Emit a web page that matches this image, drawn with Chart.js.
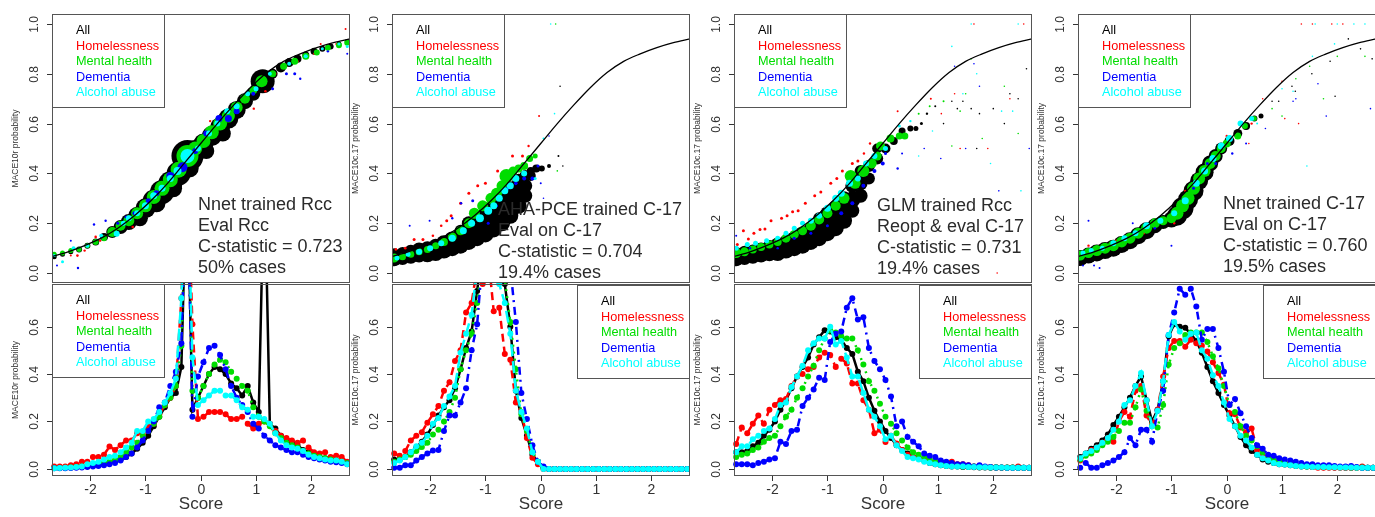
<!DOCTYPE html>
<html>
<head>
<meta charset="utf-8">
<script src="https://cdn.jsdelivr.net/npm/chart.js@4.4.1/dist/chart.umd.min.js"></script>
<style>
  body { margin: 0; background: #fff; width: 1375px; height: 517px; overflow: hidden; position: relative; }
  canvas { position: absolute; }
</style>
</head>
<body>
<script>
// groups, colours
const groupNames = ['All', 'Homelessness', 'Mental health', 'Dementia', 'Alcohol abuse'];
const groupColors = ['#000000', '#ff0000', '#00dd00', '#0000ff', '#00ffff'];
const groupDash = [[], [8, 5], [2, 5], [2, 5, 8, 5], [12, 5]];

// axis labels
const topYTicks = ['0.0', '0.2', '0.4', '0.6', '0.8', '1.0'];
const bottomYTicks = ['0.0', '0.2', '0.4', '0.6'];
const xTickLabels = ['-2', '-1', '0', '1', '2'];
const yTitles = ['MACE10r probability', 'MACE10c.17 probability', 'MACE10c.17 probability', 'MACE10c.17 probability'];
const notes = [
  ['Nnet trained Rcc', 'Eval Rcc', 'C-statistic = 0.723', '50% cases'],
  ['AHA-PCE trained C-17', 'Eval on C-17', 'C-statistic = 0.704', '19.4% cases'],
  ['GLM trained Rcc', 'Reopt & eval C-17', 'C-statistic = 0.731', '19.4% cases'],
  ['Nnet trained C-17', 'Eval on C-17', 'C-statistic = 0.760', '19.5% cases']
];

// reference curve (top panels)
const curveX = [-2.7, -2.4, -2.1, -1.8, -1.5, -1.2, -0.9, -0.6, -0.3, 0, 0.3, 0.6, 0.9, 1.2, 1.5, 1.8, 2.1, 2.4, 2.7];
const curveY = [0.065, 0.085, 0.11, 0.14, 0.18, 0.23, 0.29, 0.36, 0.44, 0.52, 0.6, 0.675, 0.745, 0.805, 0.85, 0.88, 0.905, 0.925, 0.94];

// top panels: [score, probability, radius]
const p1All = [[-2.65,0.065,2.5],[-2.5,0.075,2.5],[-2.35,0.085,2.5],[-2.2,0.095,3],[-2.05,0.11,3],[-1.9,0.125,3.5],[-1.75,0.145,4],[-1.6,0.165,6],[-1.45,0.185,7],[-1.3,0.205,8],[-1.15,0.23,9],[-1.0,0.26,10],[-0.85,0.29,11],[-0.7,0.325,12],[-0.55,0.36,12],[-0.4,0.4,12],[-0.24,0.47,16],[-0.1,0.49,11],[0.05,0.52,10],[0.2,0.55,10],[0.35,0.585,10],[0.5,0.62,10],[0.65,0.655,9],[0.8,0.69,8],[0.95,0.72,7],[1.12,0.77,12],[1.3,0.8,5],[1.45,0.825,5],[1.6,0.845,4.5],[1.75,0.86,4],[1.9,0.875,3.5],[2.05,0.89,3.5],[2.2,0.9,3],[2.35,0.91,3],[2.5,0.92,2.5],[2.65,0.93,2.5],[-1.1,0.22,8],[-0.8,0.28,9],[-0.5,0.34,9],[-0.2,0.42,9],[0.1,0.49,8],[0.4,0.56,8]];
const p1Hom = [[-2.35,0.07,1],[-2.23,0.07,1.3],[-2.1,0.09,1.2],[-1.9,0.145,1.3],[-1.82,0.13,1.2],[-1.6,0.18,1.5],[-1.46,0.19,1.3],[-1.23,0.185,1.3],[-1.05,0.25,1.2],[-0.8,0.3,1.2],[-0.55,0.37,1.2],[0.17,0.61,1.2],[0.55,0.64,1.2],[0.96,0.66,1.2],[1.17,0.73,1.3],[1.35,0.8,1.2],[1.75,0.85,1.2],[2.05,0.88,1],[2.17,0.92,1],[2.45,0.92,1],[2.62,0.98,1]];
const p1Men = [[-2.65,0.075,2.5],[-2.5,0.08,2.5],[-2.35,0.09,2.5],[-2.2,0.095,2.5],[-2.05,0.11,2.5],[-1.9,0.125,3],[-1.75,0.14,3],[-1.6,0.165,5],[-1.45,0.19,5],[-1.3,0.21,5.5],[-1.15,0.24,6],[-1.0,0.27,6.5],[-0.85,0.305,7],[-0.7,0.34,7.5],[-0.55,0.375,7.5],[-0.4,0.415,8],[-0.24,0.47,11],[-0.1,0.5,7],[0.05,0.53,7],[0.2,0.565,7],[0.35,0.6,7],[0.5,0.63,6.5],[0.65,0.665,6],[0.8,0.7,5],[0.95,0.735,4],[1.1,0.77,6],[1.3,0.8,3.5],[1.5,0.83,3.5],[1.7,0.85,3.5],[1.9,0.87,3.5],[2.1,0.885,3],[2.3,0.905,3],[2.5,0.915,3],[2.65,0.925,3]];
const p1Dem = [[-2.6,0.03,1],[-2.35,0.13,1],[-2.22,0.02,1.2],[-1.93,0.195,1.2],[-1.72,0.21,1.2],[-1.5,0.2,1.5],[-1.35,0.225,1.5],[-1.2,0.24,2],[-0.95,0.29,2.5],[-0.8,0.32,3],[-0.55,0.39,4],[-0.33,0.425,5],[-0.1,0.49,3],[0.1,0.56,3],[0.33,0.62,3.5],[0.5,0.62,3.5],[0.65,0.65,3],[0.95,0.72,2],[1.3,0.74,1.5],[1.55,0.8,1.5],[1.7,0.8,1.5],[1.8,0.78,1.2],[2.3,0.89,1.2],[2.65,0.88,1]];
const p1Alc = [[-2.65,0.07,1.5],[-2.5,0.045,1.5],[-2.3,0.1,2],[-2.05,0.11,2],[-1.8,0.15,2],[-1.52,0.158,3],[-1.4,0.2,2.5],[-1.3,0.22,3],[-1.15,0.24,3],[-1.0,0.27,3.5],[-0.85,0.31,3.5],[-0.7,0.34,3.5],[-0.55,0.38,3.5],[-0.42,0.41,4],[-0.24,0.47,7],[-0.05,0.5,3],[0.15,0.56,3],[0.3,0.6,3],[0.48,0.65,3],[0.65,0.67,3],[0.85,0.72,2.5],[1.0,0.74,2.5],[1.25,0.8,2],[1.6,0.84,2],[1.9,0.87,2],[2.2,0.9,1.5],[2.5,0.92,1.5],[2.65,0.91,1.5]];

const p2All = [[-2.65,0.055,7],[-2.65,0.075,6],[-2.5,0.06,7],[-2.5,0.08,6],[-2.35,0.065,7],[-2.35,0.085,7],[-2.2,0.07,7],[-2.2,0.095,7],[-2.05,0.075,8],[-2.05,0.1,7],[-1.9,0.08,8],[-1.9,0.11,7],[-1.75,0.09,8],[-1.75,0.12,8],[-1.6,0.1,8],[-1.6,0.135,8],[-1.45,0.11,8],[-1.45,0.15,8],[-1.45,0.17,6],[-1.3,0.125,8],[-1.3,0.16,8],[-1.3,0.2,7],[-1.15,0.14,8],[-1.15,0.18,8],[-1.15,0.22,7],[-1.0,0.155,8],[-1.0,0.195,8],[-1.0,0.235,8],[-1.0,0.26,6],[-0.85,0.175,8],[-0.85,0.215,8],[-0.85,0.255,8],[-0.85,0.285,6],[-0.7,0.2,8],[-0.7,0.24,8],[-0.7,0.28,8],[-0.7,0.31,7],[-0.55,0.23,8],[-0.55,0.27,8],[-0.55,0.31,8],[-0.55,0.34,7],[-0.4,0.27,8],[-0.4,0.31,8],[-0.4,0.35,8],[-0.4,0.375,6],[-0.28,0.31,7],[-0.28,0.35,7],[-0.28,0.39,6],[-0.18,0.39,5],[-0.18,0.41,4],[-0.08,0.42,4],[0.02,0.42,3],[0.15,0.43,2],[0.32,0.47,1],[0.35,0.75,0.8],[0.4,0.43,0.8]];
const p2Hom = [[-2.62,0.095,1.3],[-2.45,0.1,1.3],[-2.29,0.135,1.5],[-2.13,0.135,1.5],[-1.95,0.15,1.3],[-1.8,0.19,1.3],[-1.7,0.21,1.5],[-1.62,0.23,1.5],[-1.45,0.28,1.5],[-1.3,0.32,1.5],[-1.14,0.35,1.5],[-1.0,0.36,1.5],[-0.78,0.41,1.5],[-0.65,0.4,1.5],[-0.51,0.47,1.5],[-0.33,0.47,1.5],[-0.22,0.51,1.2],[-0.03,0.63,1]];
const p2Men = [[-2.65,0.06,4.5],[-2.5,0.065,3.5],[-2.35,0.075,3.5],[-2.2,0.085,3.5],[-2.05,0.095,3.5],[-1.9,0.11,3.5],[-1.75,0.125,4],[-1.6,0.145,4.5],[-1.45,0.17,4.5],[-1.3,0.2,5],[-1.2,0.24,5.5],[-1.05,0.27,5.5],[-0.9,0.3,5.5],[-0.8,0.32,5.5],[-0.7,0.35,5.5],[-0.62,0.39,7],[-0.5,0.41,4.5],[-0.4,0.42,4],[-0.3,0.43,4],[-0.2,0.46,3.5],[-0.1,0.47,2.5],[0.27,1.0,0.8],[0.3,0.41,0.8]];
const p2Dem = [[-2.37,0.19,1],[-2.01,0.21,1],[-1.6,0.22,1.2],[-1.44,0.28,1.2],[-1.23,0.29,1.5],[-0.95,0.2,1.5],[-0.8,0.27,1.5],[-0.6,0.34,1.8],[-0.45,0.36,1.8],[-0.3,0.38,2],[-0.15,0.38,2],[-0.05,0.43,1.5],[0.0,0.36,1],[0.05,0.3,0.8],[0.15,0.55,0.8]];
const p2Alc = [[-2.6,0.06,2.5],[-2.4,0.075,2.5],[-2.2,0.085,3],[-2.0,0.1,3],[-1.8,0.12,3],[-1.6,0.14,3.5],[-1.4,0.17,3.5],[-1.25,0.2,3.5],[-1.1,0.22,4],[-0.95,0.25,4],[-0.85,0.27,3.5],[-0.75,0.3,3.5],[-0.65,0.33,3.5],[-0.55,0.35,3.5],[-0.45,0.38,3.5],[-0.3,0.4,3],[-0.1,0.38,1.5],[0.05,0.54,1],[0.18,1.0,0.8],[0.25,0.64,0.8]];

const p3All = [[-2.65,0.055,7],[-2.65,0.08,6],[-2.5,0.06,7],[-2.5,0.085,6],[-2.35,0.065,7],[-2.35,0.09,6],[-2.2,0.07,7],[-2.2,0.095,7],[-2.05,0.075,7],[-2.05,0.105,7],[-1.9,0.08,8],[-1.9,0.115,7],[-1.75,0.09,8],[-1.75,0.125,7],[-1.6,0.1,8],[-1.6,0.14,7],[-1.45,0.11,8],[-1.45,0.155,8],[-1.3,0.125,8],[-1.3,0.17,8],[-1.15,0.14,8],[-1.15,0.185,8],[-1.15,0.22,6],[-1.0,0.16,8],[-1.0,0.2,8],[-1.0,0.24,7],[-0.85,0.18,8],[-0.85,0.22,8],[-0.85,0.265,7],[-0.7,0.21,8],[-0.7,0.25,8],[-0.7,0.3,7],[-0.55,0.25,7],[-0.55,0.295,8],[-0.55,0.35,7],[-0.4,0.31,7],[-0.4,0.36,7],[-0.4,0.41,6],[-0.25,0.38,6],[-0.25,0.43,6],[-0.1,0.46,6],[-0.1,0.5,5],[0.05,0.5,5],[0.2,0.53,4],[0.35,0.57,3.5],[0.5,0.58,3],[0.6,0.58,2.5],[0.7,0.6,1.5],[0.8,0.64,1.2],[0.95,0.67,1],[1.1,0.6,0.8],[1.25,0.69,0.8],[1.35,0.66,0.8],[1.45,0.69,0.8],[1.6,0.66,0.8],[1.7,0.5,0.8],[1.75,0.64,0.8],[2.0,0.66,0.8],[2.2,0.6,0.8],[2.3,0.72,0.8],[2.45,0.7,0.8],[2.6,0.82,0.8]];
const p3Hom = [[-2.63,0.115,1.5],[-2.52,0.17,1.5],[-2.43,0.137,1.5],[-2.33,0.16,1.5],[-2.22,0.175,1.5],[-2.13,0.177,1.5],[-2.02,0.21,1.5],[-1.83,0.22,1.5],[-1.73,0.23,1.5],[-1.63,0.246,1.5],[-1.53,0.25,1.5],[-1.4,0.28,1.5],[-1.23,0.31,1.5],[-1.12,0.325,1.5],[-0.94,0.36,1.5],[-0.83,0.38,1.5],[-0.73,0.41,1.5],[-0.55,0.44,1.5],[-0.45,0.45,1.5],[-0.34,0.48,1.2],[-0.23,0.52,1.2],[0.27,0.65,1],[0.87,0.7,1],[1.06,0.64,0.8],[1.3,0.72,0.8],[1.4,0.5,0.8],[1.65,1.0,0.8],[1.9,0.5,0.8],[2.07,0.0,0.8],[2.3,0.7,0.8],[2.55,1.0,0.8]];
const p3Men = [[-2.65,0.08,5],[-2.5,0.085,4.5],[-2.35,0.095,4],[-2.2,0.105,4],[-2.05,0.115,4],[-1.9,0.125,4],[-1.75,0.14,4.5],[-1.6,0.155,4.5],[-1.45,0.17,4.5],[-1.3,0.19,5],[-1.15,0.215,5],[-1.0,0.24,5],[-0.85,0.27,5],[-0.7,0.3,5.5],[-0.58,0.39,6],[-0.5,0.36,5.5],[-0.35,0.41,6],[-0.2,0.44,5],[-0.1,0.47,4.5],[-0.04,0.51,4.5],[0.14,0.54,4],[0.3,0.55,3.5],[0.4,0.55,3.5],[0.65,0.64,1],[0.85,0.67,1],[1.1,0.69,1],[1.25,0.51,0.8],[1.4,0.65,0.8],[1.5,0.72,0.8],[1.6,0.86,0.8],[1.8,0.54,0.8],[2.2,0.75,0.8],[2.45,0.56,0.8]];
const p3Dem = [[-2.65,0.15,1],[-2.4,0.1,1.2],[-1.9,0.1,1.2],[-1.6,0.14,1.5],[-1.3,0.16,1.5],[-1.0,0.19,1.5],[-0.75,0.24,2],[-0.55,0.28,2],[-0.35,0.35,2],[-0.15,0.41,2],[0.0,0.44,2],[0.05,0.48,1.5],[0.27,0.42,1.2],[0.35,0.48,1],[0.75,0.5,0.8],[1.05,0.46,0.8],[1.3,0.83,0.8],[1.5,0.5,0.8],[1.65,0.84,0.8],[1.75,0.75,0.8],[2.1,0.33,0.8],[2.65,0.5,0.8]];
const p3Alc = [[-2.65,0.1,2.5],[-2.45,0.115,2.5],[-2.3,0.12,2.5],[-2.1,0.13,2.5],[-1.9,0.14,2.5],[-1.75,0.16,2.5],[-1.6,0.18,2.5],[-1.45,0.2,2.5],[-1.3,0.21,3],[-1.15,0.23,3],[-1.0,0.26,3.5],[-0.85,0.3,3.5],[-0.75,0.32,3.5],[-0.6,0.36,3.5],[-0.45,0.38,3],[-0.3,0.44,3],[-0.15,0.47,3],[0.05,0.5,2.5],[0.3,0.59,1.5],[0.5,0.61,1.2],[0.65,0.47,0.8],[0.9,0.57,0.8],[1.25,0.91,0.8],[1.45,0.72,0.8],[1.6,1.0,0.8],[1.7,0.8,0.8],[1.95,0.44,0.8],[2.15,0.65,0.8],[2.35,0.65,0.8],[2.45,1.0,0.8],[2.5,0.33,0.8]];

const p4All = [[-2.65,0.06,8],[-2.5,0.07,8],[-2.35,0.08,8.5],[-2.2,0.09,8.5],[-2.05,0.1,8.5],[-1.9,0.115,8.5],[-1.75,0.13,8.5],[-1.6,0.15,8.5],[-1.45,0.17,8.5],[-1.3,0.19,7.5],[-1.15,0.205,7],[-1.0,0.215,8],[-0.9,0.23,10],[-0.8,0.26,11],[-0.7,0.295,10],[-0.6,0.33,10],[-0.5,0.37,9],[-0.4,0.405,9],[-0.3,0.44,8],[-0.2,0.47,7],[-0.1,0.5,6],[0.05,0.53,5],[0.2,0.56,4.5],[0.35,0.59,4],[0.5,0.62,3],[0.62,0.63,2.5],[0.82,0.69,0.8],[0.94,0.69,0.8],[1.18,0.75,0.8],[1.24,0.73,0.8],[1.54,0.8,0.8],[1.87,0.85,0.8],[1.96,0.71,0.8],[2.2,0.94,0.8],[2.42,0.9,0.8],[2.63,0.86,0.8]];
const p4Hom = [[-2.5,0.11,1.2],[-2.0,0.13,1.2],[-1.5,0.16,1.2],[-0.95,0.2,1.2],[-0.75,0.33,1.2],[-0.55,0.37,1.2],[-0.35,0.41,1.2],[0.0,0.55,1.2],[0.4,0.52,0.8],[0.45,0.6,1.2],[0.65,0.7,0.8],[1.0,0.77,0.8],[1.05,0.62,0.8],[1.3,0.6,0.8],[1.35,1.0,0.8],[1.55,1.0,0.8],[1.9,1.0,0.8],[2.1,1.0,0.8]];
const p4Men = [[-2.65,0.07,5],[-2.5,0.08,5],[-2.35,0.09,5.5],[-2.2,0.1,5.5],[-2.05,0.11,5.5],[-1.9,0.125,5.5],[-1.75,0.14,5.5],[-1.6,0.16,5.5],[-1.45,0.18,5.5],[-1.3,0.2,5],[-1.15,0.21,4.5],[-1.0,0.22,5],[-0.9,0.24,6.5],[-0.8,0.27,6.5],[-0.7,0.3,6.5],[-0.6,0.34,6.5],[-0.5,0.38,6],[-0.4,0.41,6],[-0.3,0.44,5.5],[-0.2,0.47,5],[-0.1,0.5,4.5],[0.0,0.52,4],[0.2,0.55,3.5],[0.33,0.59,3],[0.5,0.62,2.5],[0.82,0.66,0.8],[1.0,0.63,0.8],[1.25,0.78,0.8],[1.5,0.83,0.8],[1.75,0.7,0.8],[2.0,0.87,0.8],[2.5,0.87,0.8]];
const p4Dem = [[-2.6,0.03,1],[-2.5,0.21,1],[-2.4,0.03,1],[-2.3,0.02,1],[-1.7,0.2,1],[-1.3,0.18,1.2],[-1.0,0.11,1],[-0.6,0.34,1.5],[-0.35,0.44,1.5],[-0.2,0.44,1.5],[0.1,0.48,1.2],[0.35,0.52,1],[0.7,0.58,0.8],[1.2,0.69,0.8],[1.25,0.7,0.8],[1.65,0.76,0.8],[1.8,0.63,0.8],[2.6,0.66,0.8]];
const p4Alc = [[-2.6,0.08,2.5],[-2.45,0.09,2.5],[-2.25,0.1,2.5],[-2.05,0.12,3],[-1.85,0.14,3],[-1.65,0.16,3],[-1.45,0.19,3.5],[-1.2,0.21,3],[-0.95,0.24,3],[-0.75,0.29,3.5],[-0.55,0.36,3.5],[-0.4,0.41,3.5],[-0.25,0.46,3.5],[-0.1,0.51,3.5],[0.05,0.54,3.5],[0.25,0.6,3],[0.45,0.62,2.5],[0.55,0.6,1],[1.0,0.74,0.8],[1.2,0.73,0.8],[1.45,0.43,0.8],[1.55,0.87,0.8],[1.6,1.0,0.8],[1.95,0.92,0.8],[2.0,1.0,0.8],[2.3,1.0,0.8],[2.5,1.0,0.8]];

// bottom panels: score bins and probability per group
const binX = [-2.65,-2.55,-2.45,-2.35,-2.25,-2.15,-2.05,-1.95,-1.85,-1.75,-1.65,-1.55,-1.45,-1.35,-1.25,-1.15,-1.05,-0.95,-0.85,-0.75,-0.65,-0.55,-0.45,-0.35,-0.25,-0.15,-0.05,0.05,0.15,0.25,0.35,0.45,0.55,0.65,0.75,0.85,0.95,1.05,1.15,1.25,1.35,1.45,1.55,1.65,1.75,1.85,1.95,2.05,2.15,2.25,2.35,2.45,2.55,2.65];

const b1All = [0.005,0.005,0.006,0.007,0.008,0.01,0.012,0.015,0.018,0.022,0.027,0.033,0.04,0.05,0.065,0.085,0.11,0.14,0.18,0.22,0.26,0.3,0.32,0.43,1.3,0.25,0.3,0.35,0.4,0.43,0.42,0.4,0.36,0.34,0.31,0.35,0.28,0.24,1.3,0.19,0.17,0.14,0.12,0.11,0.1,0.08,0.07,0.06,0.05,0.045,0.04,0.035,0.03,0.025];
const b1Hom = [0.01,0.01,0.01,0.015,0.02,0.03,0.03,0.05,0.05,0.06,0.094,0.08,0.1,0.12,0.12,0.15,0.15,0.18,0.19,0.23,0.27,0.3,0.35,0.72,1.3,0.61,0.21,0.22,0.24,0.24,0.24,0.23,0.21,0.21,0.22,0.19,0.17,0.19,0.2,0.19,0.16,0.14,0.13,0.12,0.11,0.12,0.09,0.07,0.065,0.07,0.05,0.055,0.05,0.03];
const b1Men = [0.004,0.004,0.005,0.006,0.008,0.01,0.013,0.017,0.02,0.025,0.03,0.038,0.05,0.07,0.09,0.11,0.14,0.16,0.19,0.22,0.27,0.3,0.35,0.52,1.3,0.33,0.3,0.35,0.4,0.44,0.46,0.45,0.41,0.38,0.35,0.33,0.26,0.22,0.2,0.18,0.15,0.13,0.11,0.1,0.09,0.075,0.065,0.055,0.05,0.045,0.04,0.035,0.03,0.025];
const b1Dem = [0.003,0.003,0.003,0.004,0.005,0.006,0.008,0.01,0.012,0.015,0.02,0.025,0.035,0.05,0.065,0.09,0.12,0.16,0.2,0.26,0.28,0.35,0.41,0.53,1.3,0.22,0.39,0.45,0.51,0.52,0.48,0.42,0.35,0.3,0.27,0.24,0.19,0.17,0.14,0.12,0.1,0.09,0.08,0.07,0.07,0.06,0.05,0.045,0.04,0.035,0.03,0.028,0.025,0.02];
const b1Alc = [0.003,0.004,0.005,0.006,0.008,0.01,0.02,0.025,0.03,0.04,0.05,0.055,0.07,0.09,0.11,0.16,0.16,0.2,0.21,0.24,0.28,0.32,0.38,0.72,1.3,0.47,0.27,0.29,0.31,0.33,0.33,0.31,0.31,0.29,0.26,0.25,0.22,0.22,0.21,0.19,0.15,0.12,0.1,0.09,0.085,0.075,0.06,0.05,0.045,0.04,0.035,0.035,0.03,0.02];

const b2All = [0.04,0.04,0.05,0.07,0.09,0.115,0.145,0.185,0.225,0.26,0.29,0.34,0.42,0.51,0.58,0.75,0.95,1.0,0.95,0.85,0.78,0.6,0.33,0.215,0.14,0.06,0.03,0.005,0,0,0,0,0,0,0,0,0,0,0,0,0,0,0,0,0,0,0,0,0,0,0,0,0,0];
const b2Hom = [0.065,0.055,0.075,0.12,0.14,0.155,0.195,0.23,0.265,0.33,0.365,0.455,0.5,0.66,0.7,0.85,0.78,0.9,0.665,0.68,0.485,0.46,0.28,0.24,0.13,0.047,0.02,0,0,0,0,0,0,0,0,0,0,0,0,0,0,0,0,0,0,0,0,0,0,0,0,0,0,0];
const b2Men = [0.03,0.04,0.05,0.06,0.075,0.092,0.11,0.145,0.165,0.2,0.24,0.3,0.42,0.5,0.57,0.7,0.9,1.0,0.95,0.9,0.8,0.62,0.42,0.23,0.16,0.07,0.03,0.005,0,0,0,0,0,0,0,0,0,0,0,0,0,0,0,0,0,0,0,0,0,0,0,0,0,0];
const b2Dem = [0.005,0.005,0.015,0.015,0.035,0.05,0.065,0.078,0.08,0.16,0.225,0.225,0.28,0.34,0.5,0.61,0.9,1.0,1.0,1.0,0.95,0.85,0.62,0.32,0.21,0.1,0.03,0.01,0,0,0,0,0,0,0,0,0,0,0,0,0,0,0,0,0,0,0,0,0,0,0,0,0,0];
const b2Alc = [0.025,0.035,0.05,0.07,0.095,0.11,0.14,0.19,0.215,0.265,0.305,0.35,0.49,0.57,0.65,0.85,0.95,1.0,0.9,0.78,0.7,0.57,0.33,0.24,0.17,0.07,0.03,0,0,0,0,0,0,0,0,0,0,0,0,0,0,0,0,0,0,0,0,0,0,0,0,0,0,0];

const b3All = [0.07,0.07,0.075,0.095,0.11,0.14,0.165,0.2,0.25,0.29,0.34,0.39,0.43,0.47,0.525,0.555,0.585,0.58,0.555,0.545,0.51,0.485,0.41,0.37,0.3,0.245,0.2,0.16,0.13,0.1,0.08,0.065,0.05,0.045,0.035,0.025,0.02,0.015,0.012,0.01,0.01,0.008,0.008,0.007,0.006,0.006,0.005,0.005,0.005,0.005,0.005,0.005,0.005,0.005];
const b3Hom = [0.105,0.175,0.15,0.19,0.225,0.19,0.25,0.27,0.29,0.295,0.35,0.39,0.4,0.42,0.43,0.47,0.49,0.48,0.43,0.465,0.445,0.36,0.36,0.29,0.25,0.15,0.165,0.113,0.14,0.107,0.08,0.06,0.05,0.045,0.04,0.035,0.03,0.03,0.025,0.03,0.02,0.02,0.015,0.01,0.01,0.008,0.008,0.007,0.006,0.006,0.006,0.01,0.005,0.005];
const b3Men = [0.05,0.06,0.065,0.08,0.09,0.115,0.13,0.14,0.18,0.22,0.25,0.3,0.34,0.39,0.435,0.5,0.55,0.585,0.575,0.56,0.55,0.55,0.5,0.44,0.37,0.33,0.275,0.22,0.19,0.15,0.12,0.09,0.07,0.06,0.05,0.04,0.03,0.025,0.02,0.015,0.012,0.01,0.01,0.01,0.008,0.008,0.007,0.007,0.006,0.006,0.006,0.005,0.005,0.005];
const b3Dem = [0.02,0.02,0.02,0.015,0.025,0.03,0.04,0.045,0.115,0.105,0.16,0.165,0.265,0.3,0.335,0.385,0.375,0.535,0.57,0.58,0.68,0.72,0.63,0.64,0.51,0.455,0.42,0.375,0.305,0.18,0.2,0.135,0.115,0.095,0.065,0.055,0.05,0.035,0.03,0.025,0.02,0.02,0.015,0.01,0.015,0.01,0.008,0.006,0.006,0.005,0.005,0.005,0.005,0.005];
const b3Alc = [0.07,0.095,0.095,0.125,0.14,0.16,0.17,0.21,0.27,0.28,0.345,0.39,0.435,0.5,0.53,0.55,0.55,0.6,0.525,0.54,0.47,0.39,0.39,0.32,0.25,0.22,0.18,0.125,0.14,0.1,0.075,0.05,0.045,0.04,0.03,0.025,0.02,0.015,0.012,0.01,0.01,0.01,0.008,0.008,0.007,0.007,0.006,0.006,0.006,0.005,0.005,0.005,0.005,0.005];

const b4All = [0.05,0.065,0.085,0.1,0.12,0.145,0.185,0.22,0.26,0.3,0.35,0.39,0.29,0.2,0.25,0.37,0.56,0.61,0.6,0.595,0.57,0.54,0.49,0.43,0.37,0.32,0.27,0.225,0.18,0.135,0.1,0.075,0.06,0.04,0.03,0.025,0.02,0.018,0.015,0.012,0.01,0.01,0.008,0.008,0.007,0.007,0.006,0.006,0.005,0.005,0.005,0.005,0.005,0.005];
const b4Hom = [0.035,0.06,0.08,0.09,0.11,0.13,0.115,0.2,0.24,0.22,0.33,0.35,0.225,0.185,0.25,0.39,0.51,0.54,0.54,0.515,0.545,0.53,0.52,0.495,0.45,0.405,0.355,0.235,0.23,0.175,0.155,0.17,0.08,0.06,0.04,0.035,0.03,0.025,0.02,0.015,0.012,0.01,0.008,0.005,0.005,0.005,0.005,0.005,0.005,0.005,0.005,0.01,0.005,0.005];
const b4Men = [0.04,0.055,0.065,0.08,0.1,0.115,0.135,0.16,0.195,0.195,0.26,0.335,0.245,0.18,0.175,0.27,0.44,0.51,0.53,0.565,0.575,0.575,0.575,0.535,0.475,0.425,0.35,0.27,0.24,0.18,0.14,0.12,0.095,0.07,0.05,0.04,0.03,0.025,0.02,0.015,0.012,0.01,0.01,0.01,0.008,0.008,0.008,0.007,0.007,0.006,0.006,0.006,0.005,0.005];
const b4Dem = [0.005,0.025,0.005,0.005,0.015,0.025,0.035,0.05,0.07,0.13,0.1,0.165,0.165,0.115,0.245,0.33,0.565,0.66,0.76,0.735,0.76,0.685,0.545,0.59,0.59,0.51,0.41,0.27,0.295,0.235,0.18,0.13,0.1,0.085,0.06,0.055,0.045,0.04,0.035,0.03,0.025,0.02,0.02,0.015,0.015,0.015,0.012,0.01,0.01,0.012,0.008,0.005,0.005,0.005];
const b4Alc = [0.045,0.065,0.075,0.09,0.11,0.13,0.165,0.2,0.27,0.29,0.35,0.405,0.29,0.18,0.245,0.37,0.565,0.62,0.58,0.545,0.57,0.575,0.5,0.465,0.395,0.35,0.28,0.21,0.18,0.14,0.12,0.09,0.06,0.045,0.035,0.025,0.02,0.018,0.015,0.012,0.01,0.01,0.008,0.008,0.008,0.007,0.007,0.006,0.006,0.006,0.005,0.005,0.005,0.005];

const topSeries = [
  [p1All, p1Hom, p1Men, p1Dem, p1Alc],
  [p2All, p2Hom, p2Men, p2Dem, p2Alc],
  [p3All, p3Hom, p3Men, p3Dem, p3Alc],
  [p4All, p4Hom, p4Men, p4Dem, p4Alc]
];
const bottomSeries = [
  [b1All, b1Hom, b1Men, b1Dem, b1Alc],
  [b2All, b2Hom, b2Men, b2Dem, b2Alc],
  [b3All, b3Hom, b3Men, b3Dem, b3Alc],
  [b4All, b4Hom, b4Men, b4Dem, b4Alc]
];

// layout of the 4 columns
const colLeft = [52, 392, 734, 1078];
const noteDx = [146, 106, 143, 145];
const noteY = [205, 210, 206, 204];
const bottomLegendSide = ['left', 'right', 'right', 'right'];
const FONT = '"Liberation Sans", Arial, Helvetica, sans-serif';

function makeCanvas(left, top, w, h) {
  const c = document.createElement('canvas');
  c.width = w; c.height = h;
  c.style.left = left + 'px'; c.style.top = top + 'px';
  c.style.width = w + 'px'; c.style.height = h + 'px';
  document.body.appendChild(c);
  return c;
}

function makeDeco(cfg) {
  return {
    id: 'deco',
    afterDraw(chart) {
      const ctx = chart.ctx, a = chart.chartArea;
      const xs = chart.scales.x, ys = chart.scales.y;
      ctx.save();

      // legend box, white background, coloured names
      const lw = 113, lh = 94;
      const lx = cfg.legendSide === 'right' ? a.right - lw : a.left;
      const ly = a.top + (cfg.legendSide === 'right' ? 1 : 0);
      ctx.fillStyle = '#fff';
      ctx.fillRect(lx, ly, lw, lh);
      ctx.strokeStyle = '#555';
      ctx.lineWidth = 1;
      ctx.strokeRect(lx + 0.5, ly + 0.5, lw - 1, lh - 1);
      ctx.font = '12.7px ' + FONT;
      ctx.textAlign = 'left';
      ctx.textBaseline = 'middle';
      groupNames.forEach((n, i) => {
        ctx.fillStyle = groupColors[i];
        ctx.fillText(n, lx + 24, ly + 16.5 + i * 15.6);
      });

      // plot frame
      ctx.strokeStyle = '#555';
      ctx.strokeRect(a.left + 0.5, a.top + 0.5, a.right - a.left - 1, a.bottom - a.top - 1);

      // y axis ticks, rotated labels
      ctx.strokeStyle = '#333';
      ctx.fillStyle = '#333';
      ctx.font = '12px ' + FONT;
      ctx.textAlign = 'center';
      cfg.yTicks.forEach(t => {
        const y = Math.round(ys.getPixelForValue(+t)) + 0.5;
        ctx.beginPath(); ctx.moveTo(a.left - 5, y); ctx.lineTo(a.left, y); ctx.stroke();
        ctx.save(); ctx.translate(a.left - 17, y); ctx.rotate(-Math.PI / 2);
        ctx.fillText(t, 0, 0); ctx.restore();
      });

      // y title
      ctx.save();
      ctx.font = '8.5px ' + FONT;
      ctx.translate(a.left - 36, (a.top + a.bottom) / 2);
      ctx.rotate(-Math.PI / 2);
      ctx.fillText(cfg.yTitle, 0, 0);
      ctx.restore();

      // x axis (bottom row only)
      if (cfg.xTicks) {
        ctx.font = '14px ' + FONT;
        cfg.xTicks.forEach(t => {
          const x = Math.round(xs.getPixelForValue(+t)) + 0.5;
          ctx.beginPath(); ctx.moveTo(x, a.bottom); ctx.lineTo(x, a.bottom + 5); ctx.stroke();
          ctx.fillText(t, x, a.bottom + 14);
        });
        ctx.font = '17px ' + FONT;
        ctx.fillText('Score', (a.left + a.right) / 2, a.bottom + 28);
      }

      // annotation text
      if (cfg.notes) {
        ctx.font = '18px ' + FONT;
        ctx.fillStyle = '#2b2b2b';
        ctx.textAlign = 'left';
        cfg.notes.forEach((s, i) => ctx.fillText(s, a.left + cfg.noteDx, cfg.noteY + i * 21));
      }
      ctx.restore();
    }
  };
}

const xMin = -2.69, xMax = 2.70;

// top row: bubbles + reference curve
for (let k = 0; k < 4; k++) {
  const cv = makeCanvas(colLeft[k] - 52, 0, 350, 284);
  const datasets = [{
    type: 'line',
    data: curveX.map((x, i) => ({ x: x, y: curveY[i] })),
    borderColor: '#000', borderWidth: 1.3, pointRadius: 0,
    cubicInterpolationMode: 'monotone', fill: false, order: 0, clip: 0
  }];
  topSeries[k].forEach((pts, g) => {
    datasets.push({
      label: groupNames[g],
      data: pts.map(p => ({ x: p[0], y: p[1], r: p[2] })),
      backgroundColor: groupColors[g], borderWidth: 0, order: 5 - g, clip: 0
    });
  });
  new Chart(cv, {
    type: 'bubble',
    data: { datasets: datasets },
    options: {
      responsive: false, animation: false, events: [],
      layout: { autoPadding: false, padding: { left: 52, top: 14, right: 0, bottom: 1 } },
      scales: {
        x: { type: 'linear', min: xMin, max: xMax, display: false },
        y: { type: 'linear', min: -0.04, max: 1.04, display: false }
      },
      plugins: { legend: { display: false }, tooltip: { enabled: false } }
    },
    plugins: [makeDeco({
      legendSide: 'left', yTicks: topYTicks, yTitle: yTitles[k],
      notes: notes[k], noteDx: noteDx[k], noteY: noteY[k]
    })]
  });
}

// bottom row: lines with points
for (let k = 0; k < 4; k++) {
  const cv = makeCanvas(colLeft[k] - 52, 283, 350, 234);
  const datasets = bottomSeries[k].map((ys, g) => ({
    label: groupNames[g],
    data: binX.map((x, i) => ({ x: x, y: ys[i] })),
    showLine: true,
    borderColor: groupColors[g], borderWidth: 2.5, borderDash: groupDash[g],
    pointBackgroundColor: groupColors[g], pointBorderWidth: 0, pointRadius: 3,
    order: 5 - g, clip: 1
  }));
  new Chart(cv, {
    type: 'scatter',
    data: { datasets: datasets },
    options: {
      responsive: false, animation: false, events: [],
      layout: { autoPadding: false, padding: { left: 52, top: 1, right: 0, bottom: 41 } },
      scales: {
        x: { type: 'linear', min: xMin, max: xMax, display: false },
        y: { type: 'linear', min: -0.03, max: 0.78, display: false }
      },
      plugins: { legend: { display: false }, tooltip: { enabled: false } }
    },
    plugins: [makeDeco({
      legendSide: bottomLegendSide[k], yTicks: bottomYTicks, yTitle: yTitles[k],
      xTicks: xTickLabels
    })]
  });
}
</script>
</body>
</html>
